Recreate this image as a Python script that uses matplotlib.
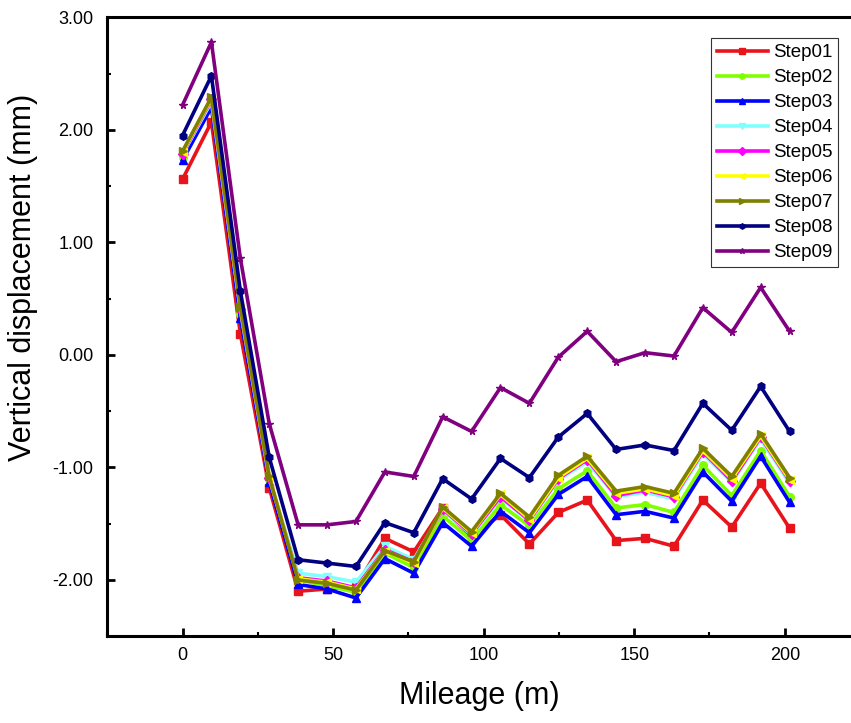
import matplotlib
matplotlib.use("Agg")
import matplotlib.pyplot as plt
from matplotlib.ticker import MultipleLocator, FormatStrFormatter

plt.rcParams["font.family"] = ["Liberation Sans", "DejaVu Sans"]

mileage = [0, 9.6, 19.2, 28.8, 38.4, 48.0, 57.6, 67.2, 76.8, 86.4, 96.0,
           105.6, 115.2, 124.8, 134.4, 144.0, 153.6, 163.2, 172.8, 182.4, 192.0, 201.6]

step01 = [1.56, 2.07, 0.19, -1.18, -2.10, -2.08, -2.06, -1.63, -1.75, -1.36, -1.62,
          -1.42, -1.68, -1.40, -1.29, -1.65, -1.63, -1.70, -1.29, -1.53, -1.14, -1.54]
step02 = [1.76, 2.23, 0.36, -1.10, -2.00, -2.05, -2.11, -1.76, -1.89, -1.43, -1.65,
          -1.33, -1.52, -1.19, -1.03, -1.36, -1.33, -1.40, -0.98, -1.25, -0.85, -1.26]
step03 = [1.73, 2.20, 0.33, -1.13, -2.04, -2.08, -2.16, -1.81, -1.94, -1.49, -1.70,
          -1.39, -1.58, -1.24, -1.08, -1.42, -1.39, -1.45, -1.04, -1.30, -0.90, -1.31]
step04 = [1.78, 2.25, 0.40, -1.10, -1.94, -1.97, -2.02, -1.70, -1.82, -1.38, -1.60,
          -1.27, -1.48, -1.11, -0.95, -1.26, -1.22, -1.28, -0.88, -1.13, -0.75, -1.14]
step05 = [1.79, 2.27, 0.41, -1.09, -1.98, -2.01, -2.07, -1.73, -1.84, -1.37, -1.59,
          -1.26, -1.47, -1.10, -0.93, -1.25, -1.20, -1.26, -0.86, -1.12, -0.73, -1.12]
step06 = [1.80, 2.28, 0.42, -1.08, -1.99, -2.02, -2.08, -1.74, -1.85, -1.36, -1.58,
          -1.24, -1.46, -1.09, -0.92, -1.23, -1.19, -1.25, -0.85, -1.10, -0.72, -1.11]
step07 = [1.81, 2.29, 0.43, -1.08, -2.00, -2.03, -2.09, -1.74, -1.84, -1.35, -1.57,
          -1.23, -1.44, -1.07, -0.90, -1.21, -1.17, -1.23, -0.83, -1.08, -0.70, -1.09]
step08 = [1.95, 2.48, 0.57, -0.91, -1.82, -1.85, -1.88, -1.49, -1.58, -1.10, -1.28,
          -0.92, -1.09, -0.73, -0.52, -0.84, -0.80, -0.85, -0.43, -0.67, -0.28, -0.68]
step09 = [2.22, 2.78, 0.86, -0.61, -1.51, -1.51, -1.48, -1.04, -1.08, -0.55, -0.68,
          -0.29, -0.43, -0.02, 0.21, -0.06, 0.02, -0.01, 0.42, 0.20, 0.60, 0.21]

labels = ["Step01", "Step02", "Step03", "Step04", "Step05",
          "Step06", "Step07", "Step08", "Step09"]
series = [step01, step02, step03, step04, step05, step06, step07, step08, step09]
colors = ["#E8141C", "#80FF00", "#0000FF", "#80FFFF", "#FF00FF",
          "#FFFF00", "#808000", "#000080", "#800080"]
markers = ["s", "o", "^", "v", "D", "<", ">", "h", "*"]

fig = plt.figure(figsize=(8.51, 7.23), dpi=100)
ax = fig.add_axes([0.126, 0.120, 0.874, 0.856])

for ys, lab, c, m in zip(series, labels, colors, markers):
    ax.plot(mileage, ys, color=c, marker=m, markersize=5.5, linewidth=2.6,
            label=lab)

ax.set_xlim(-25, 222)
ax.set_ylim(-2.5, 3.0)
ax.xaxis.set_major_locator(MultipleLocator(50))
ax.xaxis.set_minor_locator(MultipleLocator(25))
ax.yaxis.set_major_locator(MultipleLocator(1.0))
ax.yaxis.set_minor_locator(MultipleLocator(0.5))
ax.yaxis.set_major_formatter(FormatStrFormatter("%.2f"))

for side in ("left", "bottom", "top"):
    ax.spines[side].set_linewidth(2.2)
ax.spines["right"].set_visible(False)
ax.tick_params(which="major", direction="in", length=6, width=2,
               labelsize=13, top=False, right=False)
ax.tick_params(axis="y", which="major", pad=10)
ax.tick_params(axis="x", which="major", pad=8)
ax.tick_params(which="minor", direction="in", length=3, width=1.5,
               top=False, right=False)

ax.set_xlabel("Mileage (m)", fontsize=22, labelpad=12)
ax.set_ylabel("Vertical displacement (mm)", fontsize=22)
ax.yaxis.set_label_coords(-0.093, 0.58)

leg = ax.legend(loc="upper right", bbox_to_anchor=(0.983, 0.966),
                fontsize=13.5, handlelength=2.7, markerscale=0.7,
                frameon=True, fancybox=False, borderaxespad=0,
                labelspacing=0.42, handletextpad=0.3, borderpad=0.3)
leg.get_frame().set_edgecolor("black")
leg.get_frame().set_linewidth(0.8)

fig.savefig("out.png", dpi=100)
